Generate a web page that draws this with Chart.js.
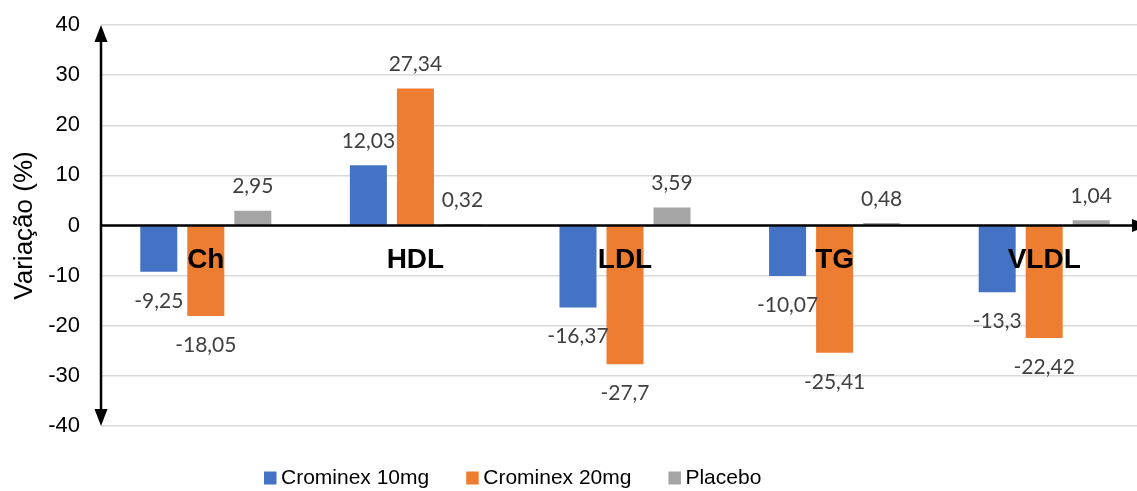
<!DOCTYPE html>
<html>
<head>
<meta charset="utf-8">
<script src="https://cdn.jsdelivr.net/npm/chart.js@4/dist/chart.umd.min.js"></script>
<style>
  html, body { margin: 0; padding: 0; background: #fff; overflow: hidden; }
  #wrap { width: 1137px; height: 491px; position: relative; overflow: hidden; }
  #chart { display: block; }
</style>
</head>
<body>
<!-- the plot runs slightly past the right edge, so the axis arrow is cut off -->
<div id="wrap"><canvas id="chart" width="1149" height="491"></canvas></div>
<script>
// Lipid profile variation by group
const categories = ['Ch', 'HDL', 'LDL', 'TG', 'VLDL'];
const seriesNames = ['Crominex 10mg', 'Crominex 20mg', 'Placebo'];
const crominex10 = [-9.25, 12.03, -16.37, -10.07, -13.3];
const crominex20 = [-18.05, 27.34, -27.7, -25.41, -22.42];
const placebo = [2.95, 0.32, 3.59, 0.48, 1.04];
const yTicks = [-40, -30, -20, -10, 0, 10, 20, 30, 40];
const colors = ['#4472C4', '#ED7D31', '#A5A5A5'];

const fmt = v => String(v).replace('.', ',');

// Axis lines with arrowheads, category names beside the zero line, value labels
const decorations = {
  id: 'decorations',
  afterDatasetsDraw(chart) {
    const { ctx, chartArea: a, scales: { x, y } } = chart;
    const y0 = y.getPixelForValue(0);
    ctx.save();
    ctx.fillStyle = '#000';
    ctx.strokeStyle = '#000';
    ctx.lineWidth = 2.5;
    // vertical axis
    ctx.beginPath();
    ctx.moveTo(a.left, a.top + 10);
    ctx.lineTo(a.left, a.bottom - 10);
    ctx.stroke();
    ctx.beginPath();
    ctx.moveTo(a.left, a.top);
    ctx.lineTo(a.left - 6.5, a.top + 17);
    ctx.lineTo(a.left + 6.5, a.top + 17);
    ctx.closePath();
    ctx.fill();
    ctx.beginPath();
    ctx.moveTo(a.left, a.bottom);
    ctx.lineTo(a.left - 6.5, a.bottom - 17);
    ctx.lineTo(a.left + 6.5, a.bottom - 17);
    ctx.closePath();
    ctx.fill();
    // horizontal axis at zero
    ctx.beginPath();
    ctx.moveTo(a.left, y0);
    ctx.lineTo(a.right - 10, y0);
    ctx.stroke();
    ctx.beginPath();
    ctx.moveTo(a.right, y0);
    ctx.lineTo(a.right - 17, y0 - 6.5);
    ctx.lineTo(a.right - 17, y0 + 6.5);
    ctx.closePath();
    ctx.fill();

    // category names
    ctx.font = 'bold 28px "Liberation Sans", Arial, sans-serif';
    ctx.textAlign = 'center';
    ctx.textBaseline = 'middle';
    categories.forEach((c, i) => {
      ctx.fillText(c, x.getPixelForValue(i), y0 + 35);
    });

    // value labels
    ctx.font = '21px Lato, "Open Sans", sans-serif';
    ctx.fillStyle = '#404040';
    chart.data.datasets.forEach((ds, di) => {
      const meta = chart.getDatasetMeta(di);
      meta.data.forEach((bar, i) => {
        const v = ds.data[i];
        const ty = v >= 0 ? bar.y - 24 : bar.y + 29;
        ctx.fillText(fmt(v), bar.x, ty);
      });
    });
    ctx.restore();
  }
};

// Legend row under the plot
const bottomLegend = {
  id: 'bottomLegend',
  afterDraw(chart) {
    const { ctx } = chart;
    ctx.save();
    ctx.font = '21px "Liberation Sans", Arial, sans-serif';
    ctx.textBaseline = 'middle';
    ctx.textAlign = 'left';
    let px = 264;
    const cy = 478;
    chart.data.datasets.forEach(ds => {
      ctx.fillStyle = ds.backgroundColor;
      ctx.fillRect(px, cy - 6.5, 12.5, 13);
      ctx.fillStyle = '#000';
      ctx.fillText(ds.label, px + 17, cy);
      px += 17 + ctx.measureText(ds.label).width + 37;
    });
    ctx.restore();
  }
};

new Chart(document.getElementById('chart'), {
  type: 'bar',
  data: {
    labels: categories,
    datasets: [
      { label: seriesNames[0], data: crominex10, backgroundColor: colors[0] },
      { label: seriesNames[1], data: crominex20, backgroundColor: colors[1] },
      { label: seriesNames[2], data: placebo, backgroundColor: colors[2] }
    ]
  },
  options: {
    responsive: false,
    devicePixelRatio: 1,
    animation: false,
    layout: { padding: { top: 25, bottom: 65, left: 0, right: 0 } },
    datasets: {
      bar: { categoryPercentage: 0.673, barPercentage: 0.787 }
    },
    plugins: {
      legend: { display: false },
      tooltip: { enabled: false }
    },
    scales: {
      x: { display: false },
      y: {
        min: -40,
        max: 40,
        afterBuildTicks: s => { s.ticks = yTicks.map(v => ({ value: v })); },
        afterFit: s => { s.width = 101; s.paddingTop = 0; s.paddingBottom = 0; },
        grid: { color: '#d9d9d9', lineWidth: 1.5, drawTicks: false },
        border: { display: false },
        ticks: {
          padding: 21,
          color: '#000',
          font: { family: '"Liberation Sans", Arial, sans-serif', size: 22 }
        },
        title: {
          display: true,
          text: 'Variação (%)',
          color: '#000',
          font: { family: '"Liberation Sans", Arial, sans-serif', size: 26 },
          padding: { top: 9, bottom: 0 }
        }
      }
    }
  },
  plugins: [decorations, bottomLegend]
});
</script>
</body>
</html>
